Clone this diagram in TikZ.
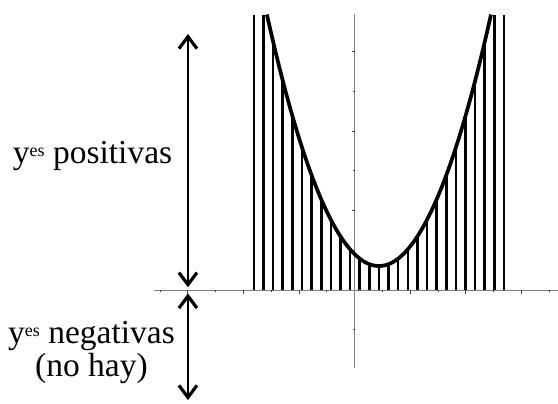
\documentclass[tikz,border=0pt]{standalone}
\usepackage{fontspec}
\setmainfont{Liberation Serif}
\usetikzlibrary{arrows.meta}
\tikzset{
  axisline/.style={gray,line width=0.5bp},
  tickline/.style={black!75,line width=0.5bp},
  ordline/.style={line width=1.3bp},
  curveline/.style={line width=1.85bp,line join=round},
  rangearrow/.style={line width=1bp,{Straight Barb[length=6bp,width=9bp,line width=1.6bp]}-{Straight Barb[length=6bp,width=9bp,line width=1.6bp]}},
  rangelabel/.style={font=\fontsize{16.75bp}{16.4bp}\selectfont,align=center,anchor=base,inner sep=0pt},
}
\newcommand{\yplural}{y\raisebox{0.2em}{\fontsize{9bp}{9bp}\selectfont es}}

\begin{document}
\begin{tikzpicture}[x=13.9bp,y=19.85bp,line cap=butt]
  \useasboundingbox (-12.76,-2.846) rectangle (7.31,7.305);
  % axes and ticks
  \draw[axisline] (-7.22,0) -- (7.31,0);
  \draw[axisline] (0,-1.96) -- (0,6.95);
  \foreach \i in {-7,...,-1,1,2,...,7}{
    \pgfmathsetmacro{\l}{iseven(\i) ? 0.1 : 0.05}
    \draw[tickline] (\i,0) -- (\i,-\l);
  }
  \foreach \j in {-1,1,2,...,6}{
    \pgfmathsetmacro{\l}{iseven(\j) ? 0.11 : 0.06}
    \draw[tickline] (0,\j) -- (-\l,\j);
  }
  % ordinates, from the axis up to the curve
  \foreach \k in {-13,...,13}{
    \pgfmathsetmacro{\x}{0.87+0.346*\k}
    \pgfmathsetmacro{\h}{min(0.39*(0.346*\k)^2+0.605,6.92)}
    \draw[ordline] (\x,0) -- (\x,\h);
  }
  \draw[curveline] plot[domain=-3.16:4.90,samples=90,smooth] (\x,{0.39*(\x-0.87)^2+0.605});
  % ranges of y
  \coordinate (posTop) at (-6,6.45);
  \coordinate (posBot) at (-6,0.07);
  \coordinate (negTop) at (-6,-0.085);
  \coordinate (negBot) at (-6,-2.77);
  \draw[rangearrow] (posTop) -- (posBot);
  \draw[rangearrow] (negTop) -- (negBot);
  \node[rangelabel] (posLabel) at (-9.43,3.19) {\yplural{} positivas};
  \node[rangelabel] (negLabel) at (-9.47,-2.166) {\yplural{} negativas\\(no hay)};
\end{tikzpicture}
\end{document}
